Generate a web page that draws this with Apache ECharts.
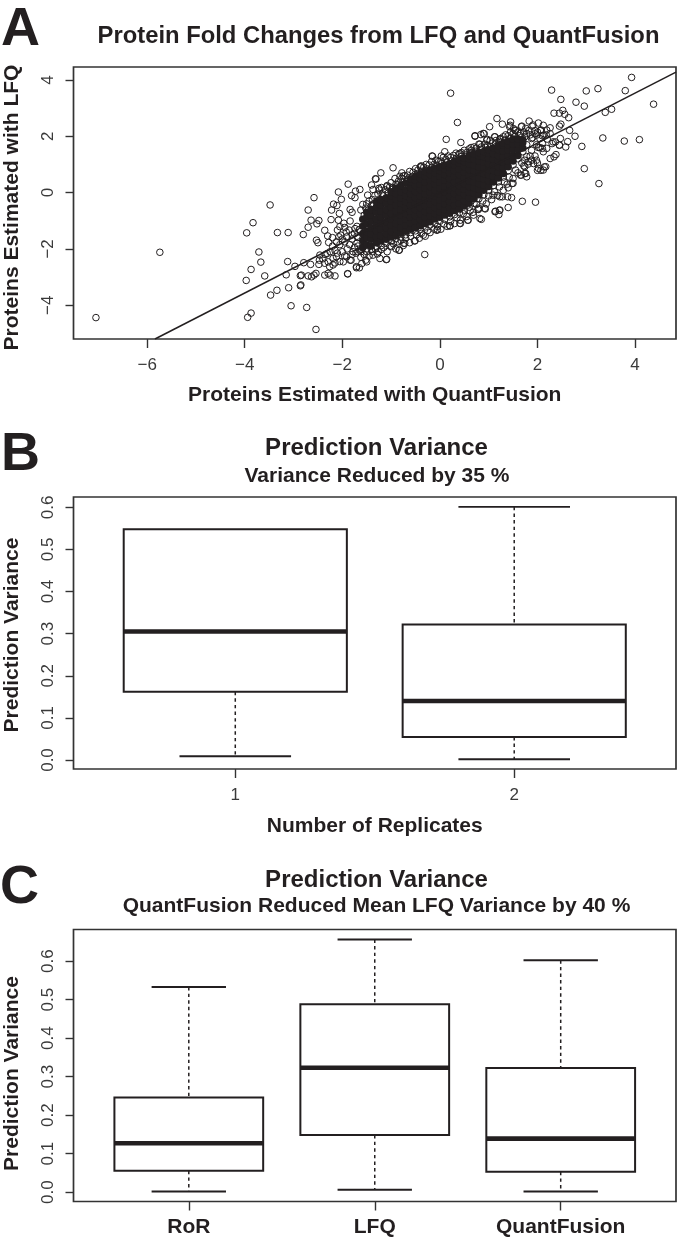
<!DOCTYPE html>
<html>
<head>
<meta charset="utf-8">
<style>html,body{margin:0;padding:0;background:#fff}#c{width:677px;height:1241px}</style>
<script src="https://cdn.jsdelivr.net/npm/echarts@6/dist/echarts.min.js"></script>
</head>
<body>
<div id="c"></div>
<script>
// ---- Panel A data ----
const sparsePoints = [
[-7.05,-4.44],[-5.74,-2.12],[-3.48,-.44],[-3.83,-1.07],[-3.96,-1.43],[-3.33,-1.42],[-3.11,-1.42],[-3.71,-2.11],[-3.67,-2.47],[-3.87,-2.73],
[-3.59,-2.96],[-3.97,-3.12],[-3.47,-3.64],[-3.34,-3.47],[-3.1,-3.38],[-3.05,-4.02],[-2.73,-4.08],[-2.54,-4.86],[-3.87,-4.28],[-3.94,-4.43],
[-2.86,-3.31],[-2.85,-3.28],[-2.86,-2.95],[-2.84,-2.93],[-3.15,-2.92],[-3.12,-2.45],[-2.97,-2.62],[-2.79,-2.49],[-2.8,-1.49],[-2.7,-1.23],
[-2.7,-.62],[-2.58,-.18],[-2.64,-.98],[-2.52,-1.11],[-2.48,-.99],[-2.53,-1.69],[-2.5,-1.78],[-2.36,-1.34],[-2.3,-1.54],[-2.28,-1.77],
[-1.88,.3],[-2.08,.02],[-2.02,-.24],[-2.18,-.41],[-2.11,-.46],[-2.22,-.62],[-2.06,-.74],[-1.84,-.6],[-1.8,-.7],[-2.08,-.98],[-2.23,-.96],
[-1.97,-1.09],[-1.84,-1.01],[-2.1,-1.33],[-2.05,-1.21],[-1.95,-1.24],[-1.86,-1.33],[-2.03,-1.51],[-2.07,-1.57],[-1.91,-1.57],[-1.74,-1.28],[-1.65,-1.31],
[-1.73,.05],[-1.74,-.18],[-1.81,-.11],[-1.64,.11],[-1.48,-.09],[-1.4,.27],[-1.31,.48],[-1.21,.7],[-.96,.88],[-.78,.7],[-.75,.59],[-1.37,.11],[-1.24,.09],[-1.09,.21],[-1.2,.18],
[-1.09,-2.37],[-1.65,-2.67],[-1.71,-2.63],[-1.89,-2.88],[-2.15,-2.96],[-2.25,-2.93],[-2.29,-2.87],[-2.36,-2.93],[-2.54,-2.87],[-2.58,-2.93],[-2.63,-2.99],[-2.7,-2.96],
[-2.65,-2.55],[-2.46,-2.22],[-2.47,-2.4],[-2.48,-2.55],[-2.31,-2.16],[-2.29,-2.46],[-2.19,-2.34],[-2.19,-2.57],[-2.26,-2.63],[-2.36,-2.51],[-2.12,-2.28],[-1.98,-2.46],[-1.91,-2.28],[-1.84,-2.4],
[-1.78,-2.1],[-1.64,-2.04],[-1.52,-2.4],[-1.37,-2.22],[-1.26,-2.1],[-1.23,-2.34],[-.99,-1.92],[-.83,-2.04],[-.72,-1.8],
[-2.2,-1.9],[-2.15,-2.05],[-2.05,-1.85],[-2,-2.1],[-1.95,-1.75],[-1.9,-2],[-1.85,-1.85],[-1.8,-1.65],[-1.75,-1.95],[-1.7,-1.8],[-1.68,-1.6],[-1.72,-2.15],[-1.8,-2.2],[-1.95,-2.25],[-2.1,-2.15],[-2.25,-2.1],[-2.35,-2.2],[-2.4,-2.35],[-2.05,-2.45],[-2.15,-2.5],[-1.75,-1.45],[-1.7,-1.2],[-1.92,-1.4],[-2,-1.65],[-2.12,-1.75],[-2.2,-1.6],[-1.8,-1.5],[-1.7,-1.55],[-1.68,-1.9],[-1.62,-2.1],
[.22,3.53],[.36,2.49],[.13,1.89],[.43,1.78],[-.15,1.29],[-.39,.91],[-1.32,.49],[1.17,2.63],[1.02,2.34],[1.28,2.43],[1.45,2.51],[1.83,2.54],[2.02,2.47],
[2.29,3.64],[2.48,3.31],[2.34,2.82],[2.45,2.82],[2.52,2.92],[2.56,2.78],[2.64,2.66],[2.79,3.21],[2.96,3.07],[3,3.61],[3.24,3.69],[3.93,4.09],[3.8,3.62],[4.38,3.14],[3.39,2.85],[3.52,2.96],[3.34,1.94],[3.78,1.83],[4.09,1.88],
[2.91,1.64],[2.96,.85],[3.26,.32],[2.66,2.21],[2.77,2],[2.62,1.81],[2.58,1.62],[2.47,1.92],[2.45,1.68],[2.37,1.8],[2.3,1.74],[2.38,1.35],[2.34,1.27],[2.26,1.21],[2.14,.91],[2.07,.79],[2,.79],[2,1.05],[1.92,1.03],[1.78,.56],[1.67,.62],[1.74,.68],
[1.96,-.34],[1.69,-.31],[1.48,.32],[1.4,.17],[1.39,-.15],[1.47,-.18],[1.4,-.53],[1.22,-.63],[1.14,-.66],[1.21,-.78],[.93,-.58],[.85,-.95],[.78,-.59],[.69,-.8],[.57,-.98],[.42,-1.1],[.21,-1.18],[-.06,-1.34],[-.31,-2.2],[-1.1,-2.38],[-.84,-2.05],
[-1.89,-2.89],[-1.71,-2.67],[-1.5,-2.46],[-1.6,-2.52],[-1.82,-2.4],
[.72,2],[.84,2.06],[.91,2.09],[1.12,1.98],[1.24,1.92],[.96,1.86],[1.44,2.39],[1.51,2.27],[1.68,2.36],[1.89,2.36],[2.12,2.39],[2.26,2.3],[2.45,2.36],[2.48,2.43],[2.06,2.21],[1.95,2.09],[2.26,2.09]
];
const rimUpper = [
[-1.62,-.62],[-1.58,-.42],[-1.5,-.4],[-1.52,-.55],[-1.45,-.3],[-1.38,-.25],[-1.4,-.45],[-1.33,-.1],[-1.27,-.05],[-1.25,.15],[-1.18,-.05],[-1.12,.1],[-1.08,.25],[-1.03,.2],[-1,.35],[-.97,.18],[-.9,.3],[-.92,.5],[-.85,.4],[-.82,.58],[-.78,.5],[-.72,.6],[-.66,.62],[-.62,.75],[-.55,.72],[-.5,.85],[-.45,.8],[-.38,.95],[-.33,.9],[-.28,1],[-.22,.98],[-.17,1.1],[-.12,1],[-.08,1.15],[-.03,1.1],[.02,1.12],[.07,1.25],[.12,1.18],[.17,1.3],[.22,1.25],[.28,1.32],[.33,1.4],[.38,1.35],[.44,1.42],[.5,1.5],[.55,1.42],[.6,1.55],[.65,1.5],[.7,1.62],[.75,1.58],[.8,1.72],[.85,1.62],[.92,1.72],[.98,1.68],[1.03,1.85],[1.08,1.76],[1.15,1.85],[1.22,1.82],[1.3,1.98],[1.35,2.05],[1.4,2.02],[1.45,2.15],[1.5,2.1],[1.55,2.2],[1.6,2.15],[1.65,2.1],[1.72,2.15],[1.78,2.1],[1.82,2.2],[1.85,2.05],[1.9,1.95],[1.95,2.2],[2,2.15],[2.1,2.02],[2.18,2.05],[2.2,1.9]
];
const rimLower = [
[-1.68,-2.1],[-1.62,-2.3],[-1.55,-2.2],[-1.5,-2.1],[-1.45,-2.25],[-1.38,-2.1],[-1.32,-2],[-1.28,-2.18],[-1.2,-2.02],[-1.15,-1.95],[-1.08,-2.1],[-1.02,-1.9],[-.95,-1.82],[-.9,-2],[-.87,-1.75],[-.8,-1.7],[-.75,-1.88],[-.7,-1.62],[-.62,-1.78],[-.6,-1.55],[-.52,-1.72],[-.48,-1.5],[-.42,-1.62],[-.38,-1.45],[-.3,-1.55],[-.25,-1.35],[-.2,-1.42],[-.12,-1.3],[-.05,-1.2],[.02,-1.3],[.08,-1.12],[.15,-1.2],[.22,-1.02],[.3,-1.1],[.35,-.9],[.42,-.98],[.48,-.75],[.55,-.85],[.62,-.65],[.68,-.7],[.75,-.42],[.8,-.55],[.88,-.3],[.95,-.4],[1,-.12],[1.06,-.25],[1.12,.03],[1.18,-.1],[1.22,.2],[1.3,.08],[1.32,.38],[1.38,.3],[1.42,.55],[1.5,.5],[1.55,.8],[1.6,.7],[1.68,1.05],[1.72,.95],[1.78,1.28],[1.82,1.1],[1.88,1.5],[1.85,1.3],[1.95,1.3],[2.05,1.6],[2.12,1.45],[2.1,1.75],[1.98,1.7]
];
const rimRightEnd = [
[1.43,2.34],[1.54,2.22],[1.67,2.34],[1.76,2.28],[1.91,2.4],[2.19,2.22],[2.08,2.22],[1.98,2.04],[1.88,1.92],[2.05,1.92],[2.13,2.04],[2.02,1.6],[2.1,1.57],[2.19,1.57],[2.32,1.8],[2.45,1.69],[1.88,1.15],[1.98,1.15],[1.74,1.15],[1.81,1.01],[2.02,.86],[2.12,.8],[2.17,.92],[1.74,.92],[1.65,.62],[1.76,.68],[1.5,.33],[1.28,-.15],[1.09,-.09],[1.23,-.15],[1.13,-.68],[1.23,-.62],[.92,-.56],[.79,-.6],[.82,-.92],[.58,-.98],[.41,-1.09],[.2,-1.18],[-.05,-1.31],[-.34,-1.51],[-.51,-1.71],[-.74,-1.8],
[-.16,1.3],[-.4,.92],[.1,1.45],[.03,1.3],[.41,1.39],[.64,1.6],[.72,2.02],[.89,2.1],[.97,1.89],[1.13,1.98],[.82,1.72],[1.23,1.89]
];
const coreEdgeUpper = [
[-1.55,-.8],[-1.47,-.62],[-1.36,-.4],[-1.26,-.28],[-1.16,-.12],[-1.06,-.02],[-.96,.12],[-.86,.27],[-.76,.36],[-.66,.48],[-.56,.58],[-.46,.68],[-.36,.76],[-.26,.84],[-.16,.9],[-.06,.97],[.04,1.03],[.14,1.08],[.24,1.13],[.34,1.22],[.44,1.28],[.54,1.34],[.64,1.42],[.74,1.47],[.84,1.54],[.94,1.6],[1.04,1.64],[1.14,1.72],[1.24,1.78],[1.34,1.87],[1.44,1.93],[1.54,2],[1.64,2.02],[1.74,1.98]
];
const coreEdgeLower = [
[-1.6,-2.02],[-1.5,-2],[-1.4,-2.02],[-1.3,-1.92],[-1.2,-1.88],[-1.1,-1.8],[-1,-1.72],[-.9,-1.64],[-.8,-1.58],[-.7,-1.5],[-.6,-1.42],[-.5,-1.36],[-.4,-1.3],[-.3,-1.22],[-.2,-1.15],[-.1,-1.08],[0,-1.02],[.1,-.95],[.2,-.86],[.3,-.78],[.4,-.72],[.5,-.62],[.6,-.52],[.7,-.38],[.8,-.22],[.9,-.08],[1,.08],[1.1,.25],[1.2,.38],[1.3,.55],[1.4,.78],[1.5,.98],[1.6,1.2],[1.7,1.45],[1.78,1.7]
];
// Saturated core of the cloud: where the circles overlap into solid ink
const denseColumns = [
[-1.58,[-1.95,-1.7,-1.45,-1.2,-.95]],[-1.5,[-1.85,-1.6,-1.38,-1.12,-.88,-.7]],[-1.41,[-1.9,-1.66,-1.47,-1.25,-1.02,-.8,-.6]],
[-1.3,[-1.78,-1.57,-1.36,-1.14,-.93,-.7,-.5,-.33]],[-1.21,[-1.72,-1.52,-1.3,-1.08,-.87,-.66,-.44,-.25]],[-1.1,[-1.66,-1.45,-1.24,-1.03,-.8,-.6,-.38,-.18]],
[-1,[-1.58,-1.38,-1.16,-.95,-.74,-.52,-.3,-.1,.03]],[-.9,[-1.52,-1.3,-1.1,-.88,-.66,-.45,-.24,-.03,.15]],[-.8,[-1.44,-1.24,-1.02,-.8,-.6,-.38,-.18,.03,.25]],
[-.7,[-1.37,-1.16,-.95,-.74,-.53,-.32,-.1,.1,.34]],[-.6,[-1.3,-1.08,-.88,-.66,-.45,-.24,-.03,.18,.38,.48]],[-.5,[-1.24,-1.02,-.82,-.6,-.4,-.18,.03,.24,.44,.58]],
[-.4,[-1.18,-.96,-.75,-.54,-.33,-.12,.1,.3,.5,.66]],[-.3,[-1.1,-.88,-.68,-.47,-.26,-.05,.16,.37,.58,.74]],[-.2,[-1.04,-.82,-.62,-.4,-.2,.02,.22,.44,.64,.8]],
[-.1,[-.94,-.74,-.53,-.32,-.12,.1,.3,.5,.7,.86]],[0,[-.88,-.68,-.47,-.26,-.05,.16,.37,.58,.78,.92]],[.1,[-.8,-.6,-.4,-.2,.02,.22,.44,.64,.84,.98]],
[.2,[-.73,-.52,-.32,-.12,.1,.3,.5,.7,.9,1.03]],[.3,[-.64,-.44,-.24,-.03,.18,.38,.58,.78,.98,1.12]],[.4,[-.58,-.38,-.17,.04,.24,.44,.64,.84,1.04,1.17]],
[.5,[-.48,-.28,-.08,.12,.32,.52,.72,.92,1.1,1.22]],[.6,[-.38,-.18,.02,.22,.42,.62,.82,1.02,1.2,1.32]],[.7,[-.22,-.02,.18,.38,.58,.78,.98,1.18,1.37]],
[.8,[-.08,.12,.32,.52,.72,.92,1.12,1.3,1.42]],[.9,[.08,.28,.48,.68,.88,1.08,1.28,1.46]],[1,[.22,.42,.62,.82,1.02,1.22,1.4,1.52]],
[1.1,[.38,.58,.78,.98,1.18,1.38,1.58]],[1.2,[.52,.72,.92,1.12,1.32,1.52,1.66]],[1.3,[.68,.88,1.08,1.28,1.48,1.68,1.76]],
[1.4,[.92,1.12,1.32,1.52,1.7,1.82]],[1.5,[1.12,1.32,1.52,1.72,1.9]],[1.6,[1.32,1.52,1.72,1.9]],[1.7,[1.58,1.78,1.88]]
];
const fitLine = [[-5.84,-5.2],[4.84,4.28]];
const ticksAX = [-6,-4,-2,0,2,4];
const ticksAY = [-4,-2,0,2,4];

// ---- Panels B and C: [position, low, q1, median, q3, high] ----
const boxB = [[1,.0088,.162,.305,.548,.548],[2,.0017,.0546,.14,.322,.601]];
const boxC = [[1,.0017,.0552,.127,.246,.5326],[2,.006,.148,.323,.488,.656],[3,.0017,.0527,.139,.322,.602]];
const ticksBX = [1,2];
const ticksCX = [1,2,3];
const catsC = ['RoR','LFQ','QuantFusion'];
const ticksVar = [0,.1,.2,.3,.4,.5,.6];

const ink = '#231f20', FF = '"Liberation Sans", Arial, sans-serif';
const densePoints = denseColumns.flatMap(([x, ys]) => ys.map(y => [x, y]));
const minusFmt = v => String(v).replace('-', '\u2212');

function boxRender(params, api) {
  const [pos, low, q1, med, q3, high] = [0,1,2,3,4,5].map(i => api.value(i));
  const cx = api.coord([pos, med])[0];
  const bw = api.size([0.8, 0])[0], cap = api.size([0.4, 0])[0];
  const Y = v => api.coord([pos, v])[1];
  const solid = w => ({ stroke: ink, lineWidth: w, fill: null });
  const hline = (y, half, w) => ({ type: 'line', shape: { x1: cx - half, y1: y, x2: cx + half, y2: y }, style: solid(w) });
  const dash = (y1, y2) => ({ type: 'line', shape: { x1: cx, y1, x2: cx, y2 }, style: { stroke: ink, lineWidth: 1.5, lineDash: [3.4, 3.2] } });
  const children = [
    { type: 'rect', shape: { x: cx - bw / 2, y: Y(q3), width: bw, height: Y(q1) - Y(q3) }, style: solid(2) },
    hline(Y(med), bw / 2, 4.6),
    dash(Y(q1), Y(low)), hline(Y(low), cap / 2, 1.9)
  ];
  if (high > q3) { children.push(dash(Y(high), Y(q3)), hline(Y(high), cap / 2, 1.9)); }
  return { type: 'group', children };
}

const boldName = s => ({ fontFamily: FF, fontWeight: 'bold', fontSize: s, color: ink });
const tickStyle = { color: '#333', width: 1.4 };
const numLabel = { fontFamily: FF, fontSize: 17, color: '#3a3a3a' };
const txt = (text, left, top, size, align) => ({ text, left, top, textAlign: align || 'center', textStyle: { fontFamily: FF, fontWeight: 'bold', fontSize: size, color: ink }, padding: 0 });

const makeX = (o) => ({
  type: 'value', gridIndex: o.g, min: o.min, max: o.max, splitLine: { show: false },
  axisLine: { show: false, onZero: false },
  axisTick: { show: true, length: 9, inside: false, lineStyle: tickStyle, customValues: o.ticks },
  axisLabel: Object.assign({ margin: o.margin || 18, customValues: o.ticks, formatter: o.fmt }, o.label || numLabel),
  name: o.name, nameLocation: 'middle', nameGap: o.gap, nameTextStyle: boldName(21)
});
const makeY = (o) => ({
  type: 'value', gridIndex: o.g, min: o.min, max: o.max, splitLine: { show: false },
  axisLine: { show: false, onZero: false },
  axisTick: { show: true, length: 8, lineStyle: tickStyle, customValues: o.ticks },
  axisLabel: Object.assign({ margin: 17, rotate: 90, customValues: o.ticks, formatter: o.fmt }, numLabel),
  name: o.name, nameLocation: 'middle', nameRotate: 90, nameGap: 51,
  nameTextStyle: Object.assign({ padding: o.pad }, boldName(21))
});
const frame = (top, height) => ({ left: 73.5, width: 602.5, top, height, show: true, borderColor: '#333', borderWidth: 1.7, backgroundColor: 'transparent', containLabel: false, outerBoundsMode: 'none' });

const hollow = (name, data) => ({
  name, type: 'scatter', xAxisIndex: 0, yAxisIndex: 0, data, symbol: 'circle', symbolSize: 6.6,
  itemStyle: { color: 'transparent', borderColor: ink, borderWidth: 1, opacity: 1 }, silent: true, animation: false, clip: true
});

const option = {
  animation: false, backgroundColor: '#fff',
  title: [
    txt('A', 1, 3, 54, 'left'),
    txt('Protein Fold Changes from LFQ and QuantFusion', 378.5, 24, 23.8),
    txt('B', 1, 428, 54, 'left'),
    txt('Prediction Variance', 376.5, 436, 24),
    txt('Variance Reduced by 35 %', 377, 465.5, 21),
    txt('C', 0, 861, 54, 'left'),
    txt('Prediction Variance', 376.5, 868, 24),
    txt('QuantFusion Reduced Mean LFQ Variance by 40 %', 376.5, 895.5, 21)
  ],
  grid: [frame(67, 272), frame(497, 272), frame(929.5, 272)],
  xAxis: [
    makeX({ g: 0, min: -7.51, max: 4.84, ticks: ticksAX, fmt: minusFmt, name: 'Proteins Estimated with QuantFusion', gap: 46 }),
    makeX({ g: 1, min: .42, max: 2.58, ticks: ticksBX, fmt: v => String(v), name: 'Number of Replicates', gap: 47 }),
    makeX({ g: 2, min: .38, max: 3.62, ticks: ticksCX, fmt: v => catsC[v - 1], margin: 15, label: { fontFamily: FF, fontWeight: 'bold', fontSize: 21, color: ink }, name: '', gap: 40 })
  ],
  yAxis: [
    makeY({ g: 0, min: -5.2, max: 4.46, ticks: ticksAY, fmt: minusFmt, name: 'Proteins Estimated with LFQ', pad: [0, 9, 0, 0] }),
    makeY({ g: 1, min: -.0214, max: .6245, ticks: ticksVar, fmt: v => v.toFixed(1), name: 'Prediction Variance', pad: [0, 4, 0, 0] }),
    makeY({ g: 2, min: -.0244, max: .682, ticks: ticksVar, fmt: v => v.toFixed(1), name: 'Prediction Variance', pad: [0, 16, 0, 0] })
  ],
  series: [
    hollow('sparse', sparsePoints),
    hollow('rimUpper', rimUpper),
    hollow('rimLower', rimLower),
    hollow('rimRightEnd', rimRightEnd),
    { name: 'dense', type: 'scatter', xAxisIndex: 0, yAxisIndex: 0, data: densePoints, symbol: 'circle', symbolSize: 7.5, itemStyle: { color: ink, opacity: 1 }, silent: true, animation: false },
    hollow('coreEdgeUpper', coreEdgeUpper),
    hollow('coreEdgeLower', coreEdgeLower),
    { name: 'fit', type: 'line', xAxisIndex: 0, yAxisIndex: 0, data: fitLine, showSymbol: false, lineStyle: { color: ink, width: 1.5 }, silent: true, animation: false },
    { name: 'B', type: 'custom', xAxisIndex: 1, yAxisIndex: 1, data: boxB, renderItem: boxRender, encode: { x: 0, y: [1,2,3,4,5] }, silent: true, animation: false },
    { name: 'C', type: 'custom', xAxisIndex: 2, yAxisIndex: 2, data: boxC, renderItem: boxRender, encode: { x: 0, y: [1,2,3,4,5] }, silent: true, animation: false }
  ]
};
echarts.init(document.getElementById('c'), null, { renderer: 'canvas' }).setOption(option);
</script>
</body>
</html>
